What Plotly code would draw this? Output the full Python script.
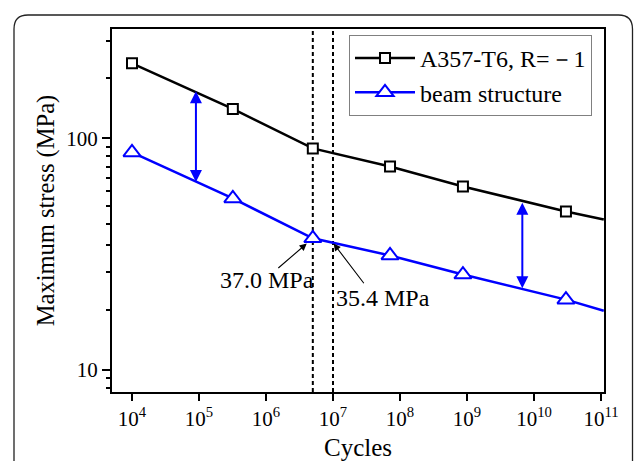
import numpy as np
import plotly.graph_objects as go

# S-N data (cycles, maximum stress in MPa)
cycles = [1e4, 3.2e5, 5e6, 7.1e7, 8.7e8, 3.0e10]
a357_stress = [211, 134, 90.5, 75.6, 62.0, 48.3]
beam_cycles = [1e4, 3.2e5, 5e6, 7.1e7, 8.7e8, 3.0e10]
beam_stress = [87.0, 55.0, 37.0, 31.2, 25.8, 20.1]

# straight-line extension of each curve to the right edge
ext_cycles = [3.0e10, 1.1e11]
a357_ext = [48.3, 44.6]
beam_ext = [20.1, 18.0]

# marked lives and the beam stress at each
mark_cycles = [5e6, 1e7]
mark_stress = [37.0, 35.4]
mark_labels = ["37.0 MPa", "35.4 MPa"]

# vertical gap arrows between the two curves
gap_cycles = [9e4, 6.7e9]
gap_top = [160, 52.7]
gap_bottom = [63.8, 22.2]

x_tick_vals = [10.0 ** e for e in range(4, 12)]
x_tick_text = ["10<sup>%d</sup>" % e for e in range(4, 12)]
y_tick_vals = [10, 100]
y_tick_text = ["10", "100"]

W, H = 634, 461
ML, MR, MT, MB = 112, 30, 29, 69
X_RANGE = [3.7015, 11.045]
Y_RANGE = [0.904, 2.4727]
FONT = "Liberation Serif"
BLUE = "#0000FF"

# minor ticks: ten evenly spaced (linear) ticks inside every decade
minor_vals = []
for dec in [1, 10, 100]:
    for k in range(1, 11):
        minor_vals.append(dec * (1 + 9 * k / 11))

fig = go.Figure()

# dashed verticals at the marked lives
y_lo, y_hi = 10 ** Y_RANGE[0], 10 ** Y_RANGE[1]
for xc in mark_cycles:
    fig.add_trace(go.Scatter(x=[xc, xc], y=[y_lo, y_hi], mode="lines", showlegend=False,
                             line=dict(color="black", width=2, dash="4px,3px")))

fig.add_trace(go.Scatter(x=ext_cycles, y=a357_ext, mode="lines", showlegend=False,
                         line=dict(color="black", width=2.5)))
fig.add_trace(go.Scatter(x=ext_cycles, y=beam_ext, mode="lines", showlegend=False,
                         line=dict(color=BLUE, width=2.5)))

fig.add_trace(go.Scatter(
    x=cycles, y=a357_stress, mode="lines+markers", name="A357-T6, R=－1",
    line=dict(color="black", width=2.5),
    marker=dict(symbol="square", size=10, color="white",
                line=dict(color="black", width=2)),
))
fig.add_trace(go.Scatter(
    x=beam_cycles, y=beam_stress, mode="lines+markers", name="beam structure",
    line=dict(color=BLUE, width=2.5),
    marker=dict(symbol="triangle-up", size=15, color="white",
                line=dict(color=BLUE, width=2)),
))

# double-headed gap arrows (annotation coordinates on log axes are exponents)
for xc, yt, yb in zip(gap_cycles, gap_top, gap_bottom):
    fig.add_annotation(
        x=np.log10(xc), y=np.log10(yt), ax=np.log10(xc), ay=np.log10(yb),
        xref="x", yref="y", axref="x", ayref="y", text="",
        showarrow=True, arrowside="end+start", arrowhead=2, arrowsize=1.2,
        arrowwidth=2, arrowcolor=BLUE, standoff=0, startstandoff=0,
    )

# pointer arrows and stress labels
arrow_offsets = [(-36, 31), (32, 42)]
arrow_standoff = [8, 1]
text_offsets = [(-46, 42), (50, 55)]
for xc, ys, lab, (ax, ay), so, (tx, ty) in zip(mark_cycles, mark_stress, mark_labels,
                                               arrow_offsets, arrow_standoff, text_offsets):
    fig.add_annotation(
        x=np.log10(xc), y=np.log10(ys), ax=ax, ay=ay, text="",
        showarrow=True, arrowhead=2, arrowsize=1.3, arrowwidth=1.1,
        arrowcolor="black", standoff=so,
    )
    fig.add_annotation(
        x=np.log10(xc), y=np.log10(ys), ax=tx, ay=ty, text=lab,
        showarrow=True, arrowcolor="rgba(0,0,0,0)", arrowwidth=0.1,
        font=dict(family=FONT, size=24, color="black"),
    )

# rounded outer frame
def px_to_paper(px, py):
    return (px - ML) / (W - ML - MR), (H - MB - py) / (H - MT - MB)

L, T, R, B, rad = 14, 15, 632.5, 475, 14
pts = [("M", [(L, B)]), ("L", [(L, T + rad)]), ("Q", [(L, T), (L + rad, T)]),
       ("L", [(R - rad, T)]), ("Q", [(R, T), (R, T + rad)]), ("L", [(R, B)])]
path = ""
for cmd, plist in pts:
    path += cmd + " ".join("%.5f,%.5f" % px_to_paper(*p) for p in plist)
fig.add_shape(type="path", path=path, xref="paper", yref="paper",
              line=dict(color="#222222", width=1.3))

axis_common = dict(
    showline=True, linecolor="black", linewidth=2, mirror=True,
    showgrid=False, zeroline=False, ticks="outside", tickwidth=2,
    tickcolor="black", tickfont=dict(family=FONT, size=21, color="black"),
    automargin=False,
)

fig.update_xaxes(type="log", range=X_RANGE, tickvals=x_tick_vals, ticktext=x_tick_text,
                 ticklen=7, title=dict(text="Cycles", standoff=16,
                                      font=dict(family=FONT, size=25, color="black")),
                 **axis_common)
fig.update_yaxes(type="log", range=Y_RANGE, tickvals=y_tick_vals, ticktext=y_tick_text,
                 ticklen=8,
                 minor=dict(tickvals=minor_vals, ticks="outside", ticklen=4,
                            tickwidth=2, tickcolor="black", showgrid=False),
                 title=dict(text="Maximum stress (MPa)", standoff=5,
                            font=dict(family=FONT, size=24.5, color="black")),
                 **axis_common)

lx, ly = px_to_paper(349, 35)
fig.update_layout(
    width=W, height=H,
    margin=dict(l=ML, r=MR, t=MT, b=MB, pad=0),
    paper_bgcolor="white", plot_bgcolor="white",
    font=dict(family=FONT, color="black"),
    legend=dict(x=lx, y=ly, xanchor="left", yanchor="top",
                bordercolor="#808080", borderwidth=1, bgcolor="white",
                font=dict(family=FONT, size=24, color="black"),
                itemwidth=60, tracegroupgap=0),
    showlegend=True,
)

fig.write_html("out.html")
